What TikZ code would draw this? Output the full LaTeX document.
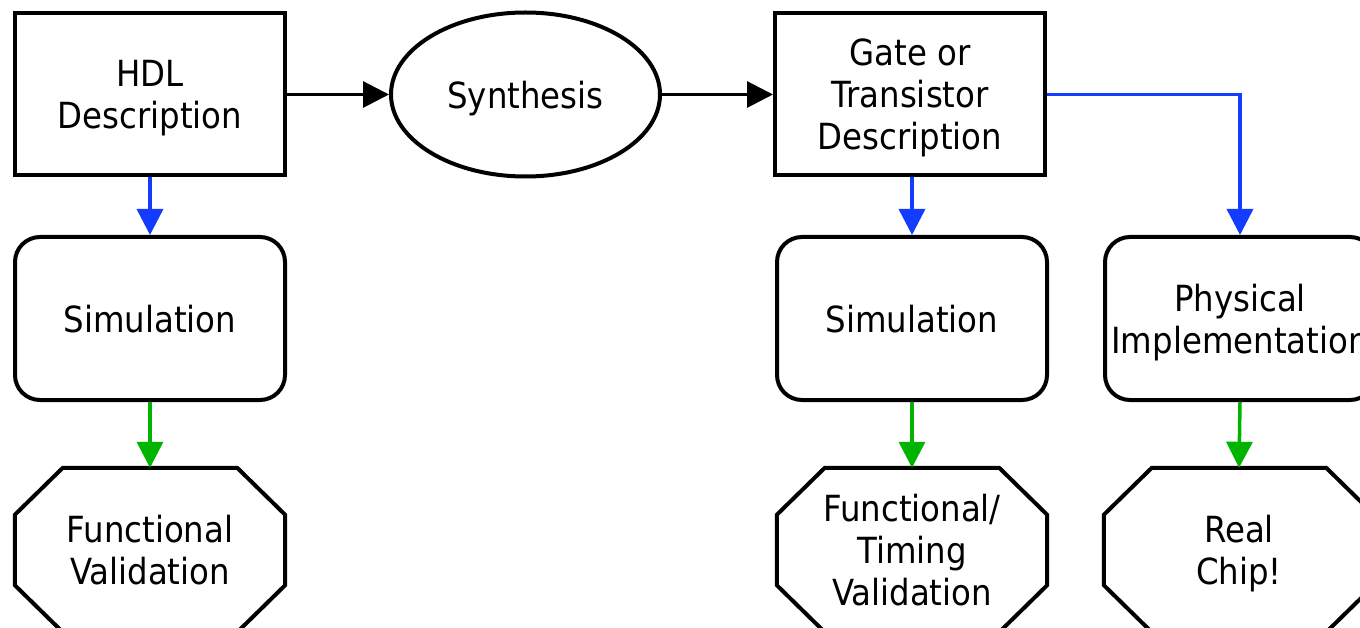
\documentclass[tikz,border=0pt]{standalone}
\usepackage{fontspec}
\setmainfont{DejaVu Sans}[FakeStretch=0.9]
\usetikzlibrary{arrows.meta,shapes.geometric}
\definecolor{flowblue}{RGB}{20,60,255}
\definecolor{flowgreen}{RGB}{0,180,0}
\tikzset{
  txt/.style={font=\fontsize{36}{42}\selectfont, align=center, inner sep=0pt, text depth=0pt},
  boxnode/.style={txt, rectangle, draw=black, line width=4pt, minimum width=270pt, minimum height=162pt},
  roundnode/.style={boxnode, rounded corners=25pt, minimum height=163pt},
  ellnode/.style={txt, ellipse, draw=black, line width=4pt, minimum width=269pt, minimum height=164pt},
  octnode/.style={txt, rectangle, minimum width=270pt, minimum height=164pt},
  octborder/.style={draw=black, line width=4pt, line join=miter},
  tip/.style={-{Triangle[length=26pt,width=26pt]}, line width=3.5pt},
  blk/.style={tip, draw=black, line width=3pt},
  blu/.style={tip, draw=flowblue},
  grn/.style={tip, draw=flowgreen},
}
\begin{document}
\begin{tikzpicture}[x=1pt,y=-1pt]
\useasboundingbox (0,0) rectangle (1360,628);
\clip (0,0) rectangle (1360,628);
\fill[white] (0,0) rectangle (1360,628);

\node[boxnode] (hdl) at (150,94.5) {HDL\\Description};
\node[ellnode] (syn) at (525.5,94.5) {Synthesis};
\node[boxnode] (gate) at (910,94.5) {Gate or\\Transistor\\Description};

\node[roundnode] (sim1) at (150,318.5) {Simulation};
\node[roundnode] (sim2) at (912,318.5) {Simulation};
\node[roundnode] (phys) at (1240,318.5) {Physical\\Implementation};

\node[octnode] (fv) at (150,550) {Functional\\Validation};
\node[octnode] (ftv) at (912,550) {Functional/\\Timing\\Validation};
\node[octnode] (rc) at (1239,550) {Real\\Chip!};

\foreach \n in {fv,ftv,rc}
  \draw[octborder] ([xshift=48pt]\n.north west) -- ([xshift=-48pt]\n.north east)
    -- ([yshift=-47pt]\n.north east) -- ([yshift=47pt]\n.south east)
    -- ([xshift=-48pt]\n.south east) -- ([xshift=48pt]\n.south west)
    -- ([yshift=47pt]\n.south west) -- ([yshift=-47pt]\n.north west) -- cycle;

\draw[blk] (hdl.east) -- (syn.west);
\draw[blk] (syn.east) -- (gate.west);

\draw[blu] (hdl.south) -- (sim1.north);
\draw[blu] (gate.south -| sim2.north) -- (sim2.north);
\draw[blu] (gate.east) -| (phys.north);

\draw[grn] (sim1.south) -- (fv.north);
\draw[grn] (sim2.south) -- (ftv.north);
\draw[grn] (phys.south) -- (rc.north);
\end{tikzpicture}
\end{document}
